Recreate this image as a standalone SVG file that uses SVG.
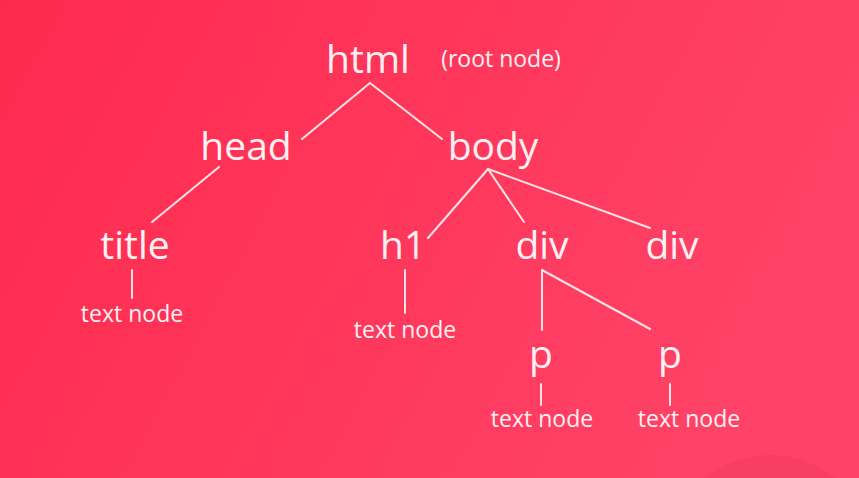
<svg xmlns="http://www.w3.org/2000/svg" width="859" height="478" viewBox="0 0 859 478">
<defs>
<linearGradient id="bg" x1="0" y1="0" x2="1" y2="0.3">
<stop offset="0" stop-color="#fe2a4e"/>
<stop offset="1" stop-color="#ff4267"/>
</linearGradient>
<style>
text{font-family:"Open Sans","Noto Sans","DejaVu Sans",sans-serif;fill:#fdf0f2;text-anchor:middle}
.big{font-size:39px}
.small{font-size:23px}
#connectors line{stroke:#fbe2e6;stroke-width:2;stroke-linecap:round}
</style>
</defs>
<rect width="859" height="478" fill="url(#bg)"/>
<circle cx="770" cy="560" r="105" fill="#f03a60" opacity="0.4"/>
<g id="connectors">
<line x1="370" y1="83" x2="302" y2="139"/>
<line x1="370" y1="83" x2="442" y2="139"/>
<line x1="219" y1="167" x2="152" y2="222"/>
<line x1="488" y1="169" x2="428" y2="238"/>
<line x1="488" y1="169" x2="524" y2="222"/>
<line x1="488" y1="169" x2="650" y2="228"/>
<line x1="542" y1="270" x2="542" y2="330"/>
<line x1="542" y1="270" x2="650" y2="329"/>
<line x1="132" y1="270" x2="132" y2="298"/>
<line x1="405" y1="270" x2="405" y2="313"/>
<line x1="541" y1="384" x2="541" y2="405"/>
<line x1="670" y1="384" x2="670" y2="405"/>
</g>
<g id="html"><text class="big" x="368" y="73">html</text></g>
<g id="root-label"><text class="small" x="501" y="67">(root node)</text></g>
<g id="head"><text class="big" x="246" y="160">head</text></g>
<g id="body"><text class="big" x="493" y="160">body</text></g>
<g id="title"><text class="big" x="135" y="259">title</text></g>
<g id="title-text"><text class="small" x="132" y="322">text node</text></g>
<g id="h1"><text class="big" x="403" y="259">h1</text></g>
<g id="h1-text"><text class="small" x="405" y="338">text node</text></g>
<g id="div1"><text class="big" x="542" y="259">div</text></g>
<g id="div2"><text class="big" x="672" y="259">div</text></g>
<g id="p1"><text class="big" x="541" y="368">p</text></g>
<g id="p2"><text class="big" x="670" y="368">p</text></g>
<g id="p1-text"><text class="small" x="542" y="427">text node</text></g>
<g id="p2-text"><text class="small" x="689" y="427">text node</text></g>
</svg>
